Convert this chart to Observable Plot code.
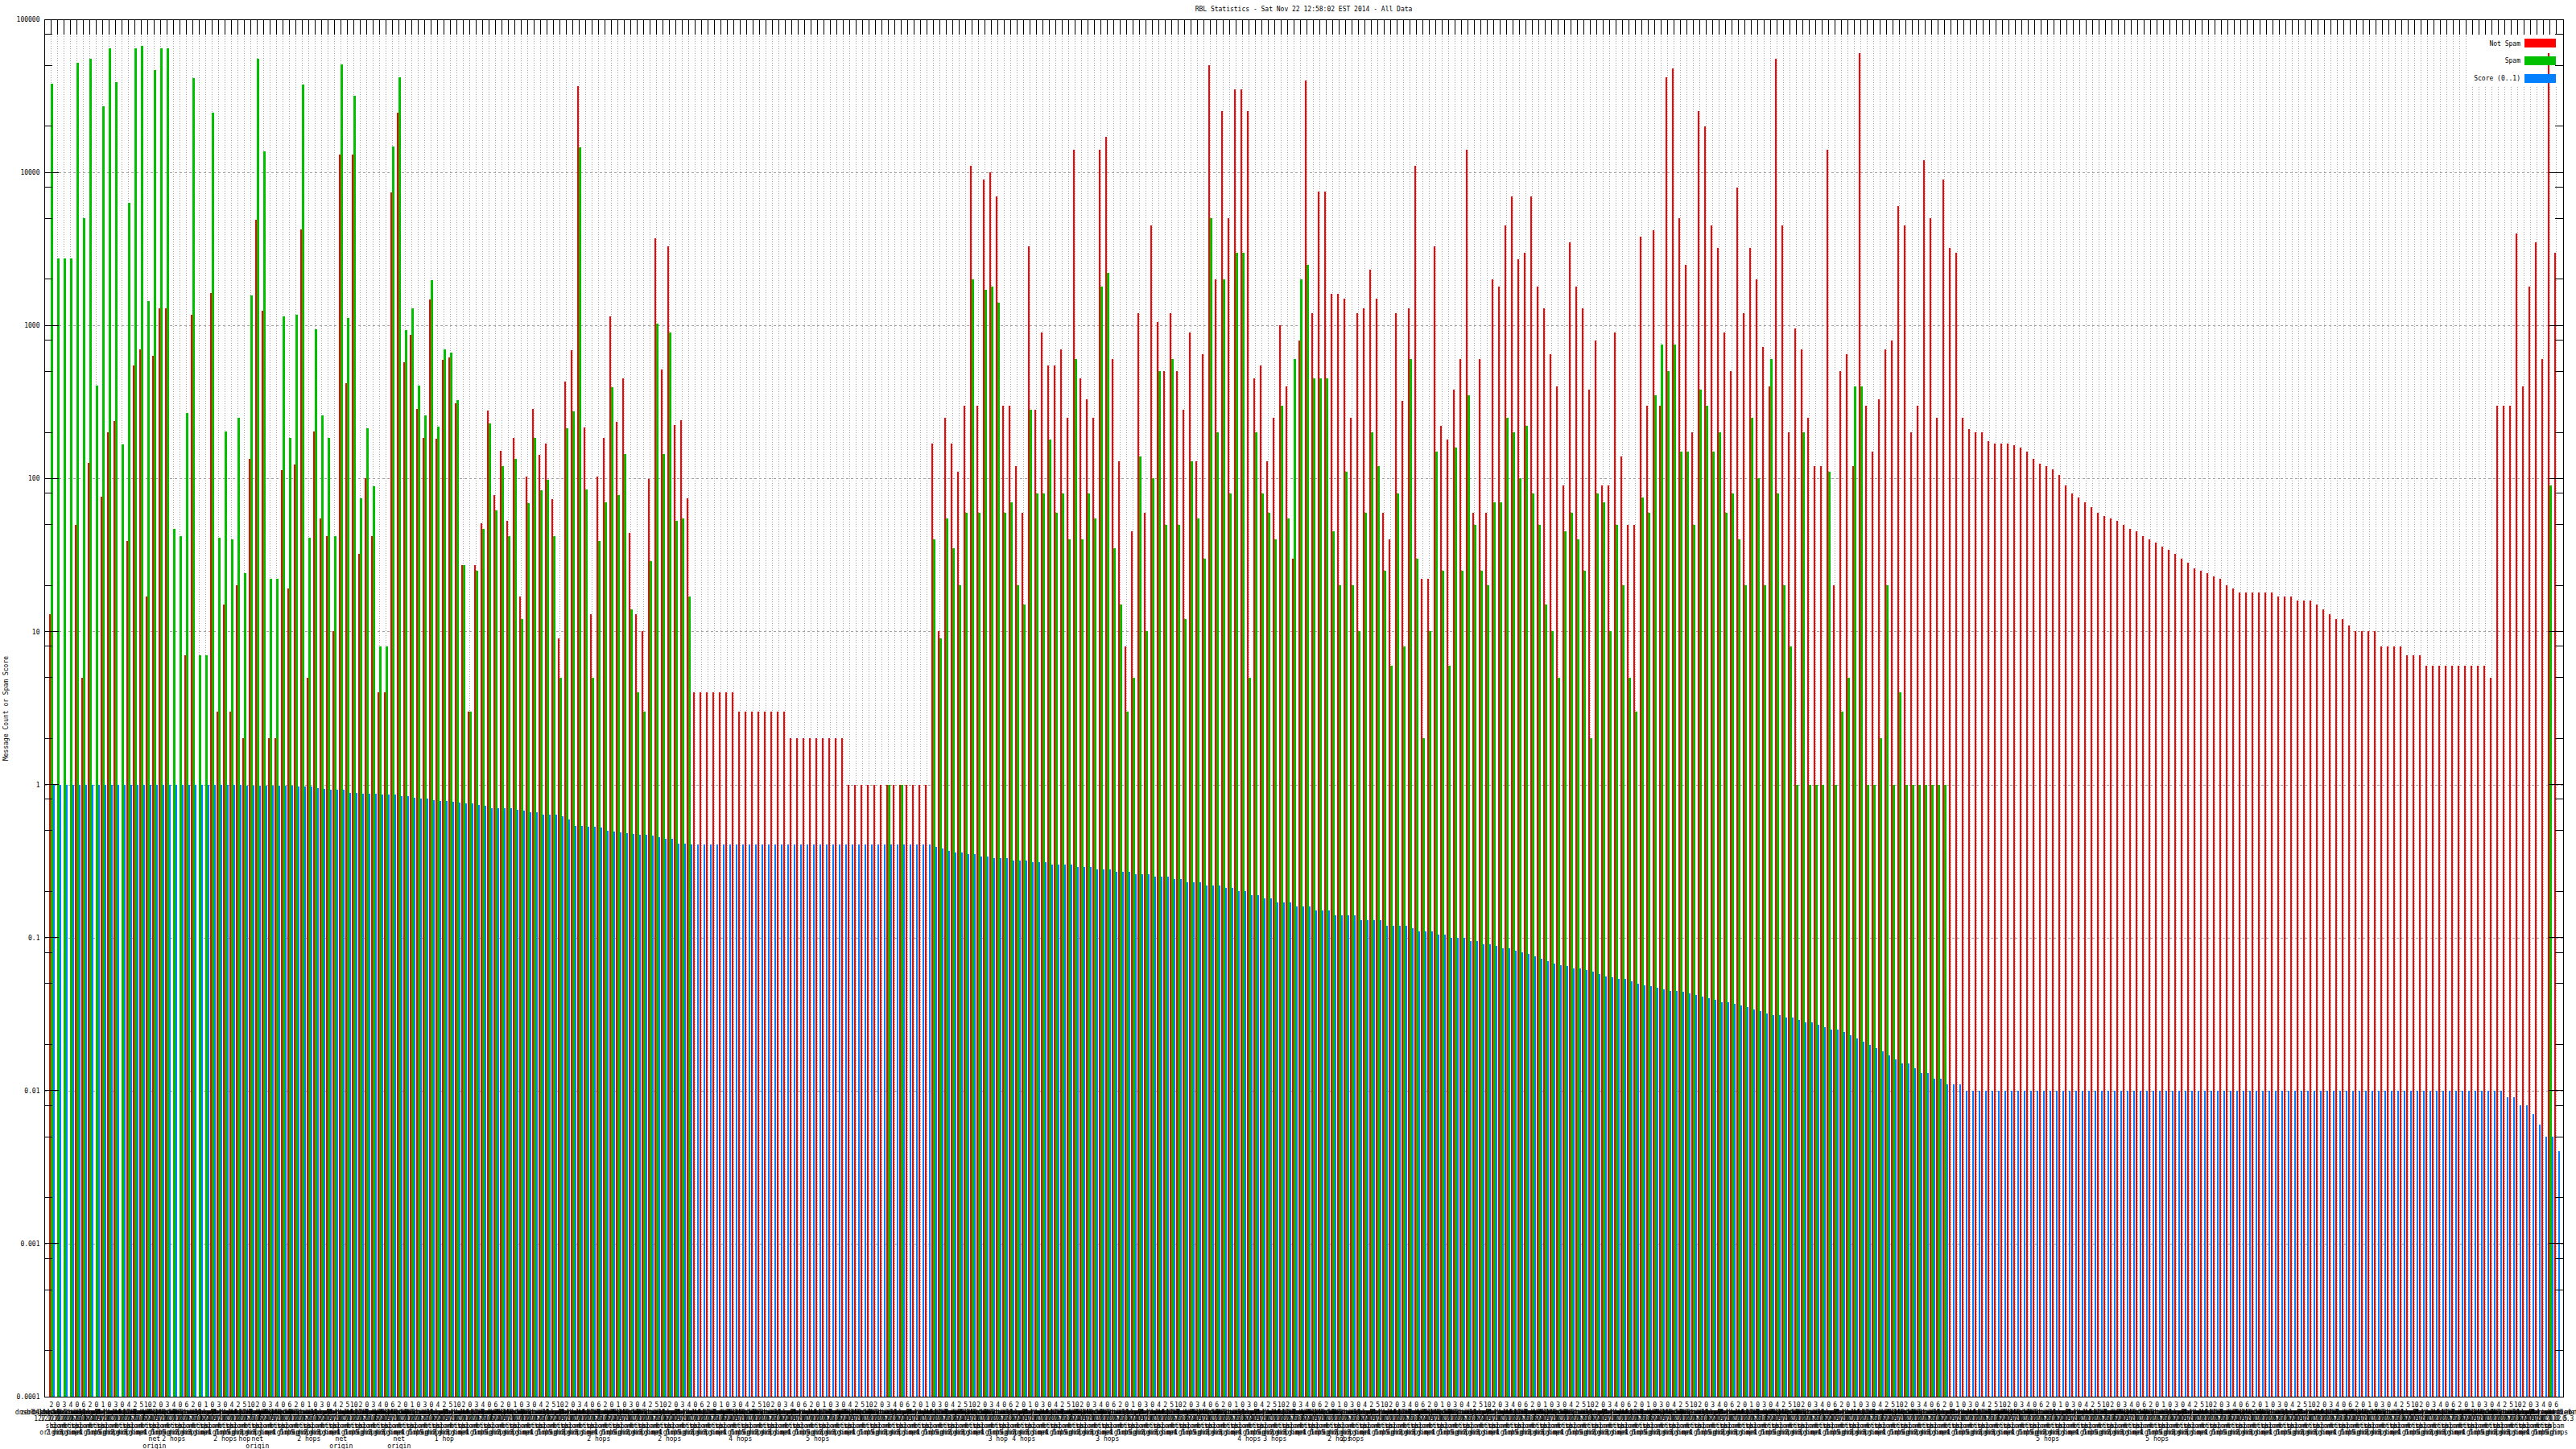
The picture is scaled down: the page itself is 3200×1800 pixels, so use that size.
<!DOCTYPE html>
<html><head><meta charset="utf-8">
<script src="https://cdn.jsdelivr.net/npm/d3@7"></script>
<script src="https://cdn.jsdelivr.net/npm/@observablehq/plot@0.6"></script>
<style>
html,body{margin:0;padding:0;background:#fff;}
#title{height:18px;width:3239px;text-align:center;font:8px "DejaVu Sans Mono",monospace;line-height:12px;padding-top:6px;box-sizing:border-box;color:#000;white-space:pre;}
</style></head><body>
<div id="title">RBL Statistics - Sat Nov 22 12:58:02 EST 2014 - All Data</div>
<div id="chart"></div>
<script>
const seriesNames = ["Not Spam", "Spam", "Score (0..1)"];
const seriesColors = ["#ff0000", "#00c000", "#0080ff"];
const yTickValues = [100000, 10000, 1000, 100, 10, 1, 0.1, 0.01, 0.001, 0.0001];
const yMinorMultipliers = [2, 5, 8];

const notSpam = [
13,null,null,null,50,5,127,null,76,200,
236,null,39,547,695,17,630,1290,1290,null,
null,7,1180,null,null,1620,3,15,3,20,
2,134,4900,1245,2,2,114,19,123,4260,
5,202,55,42,10,13000,420,13100,32,100,
42,4,4,7360,24600,572,870,283,185,1470,
181,597,617,310,27,3,27,51,277,78,
152,53,183,17,103,283,142,169,73,9,
430,689,36600,215,13,103,185,1140,233,449,
44,13,10,99,3690,518,3270,223,240,74,
4,4,4,4,4,4,4,
3,3,3,3,3,3,3,3,
2,2,2,2,2,2,2,2,2,
1,1,1,1,1,
1,1,1,1,1,1,1,1,
170,10,250,170,110,300,11000,300,9000,10000,
7000,300,300,120,60,3300,280,900,550,550,
700,250,14000,450,330,250,14000,17000,600,130,
8,45,1200,60,4500,1050,500,1200,500,280,
900,130,650,50000,2000,25000,5000,35000,35000,25000,
450,550,130,250,1000,400,30,800,40000,1200,
7500,7500,1600,1600,1500,250,1200,1300,2300,1500,
60,40,1200,320,1300,11000,22,22,3300,220,
180,380,600,14000,60,600,60,2000,1800,4500,
7000,2700,3000,7000,1800,1300,650,400,90,3500,
1800,1300,380,800,90,90,900,140,50,50,
3800,300,4200,300,42000,48000,5000,2500,200,25000,
20000,4500,3200,900,500,8000,1200,3200,2000,
720,400,55000,4500,200,950,700,250,120,120,
14000,20,500,650,120,60000,300,150,330,700,
800,6000,4500,200,300,12000,5000,250,9000,3200,3000,
250,210,200,200,175,170,170,170,165,160,
150,135,125,120,115,105,90,80,75,70,
65,60,57,55,53,50,47,45,42,40,
38,36,34,32,30,28,26,25,24,23,
22,20,19,18,18,18,18,18,18,17,
17,17,16,16,16,15,14,13,12,12,
11,10,10,10,10,8,8,8,8,7,
7,7,6,
6,6,6,6,6,6,6,6,6,
5,
300,300,300,4000,400,1800,3500,600,60000,3000
];

const spam = [
38000,2740,2740,2740,52000,5030,55300,406,26900,64500,
38900,166,6320,64500,66800,1450,46500,64500,64500,47,
42,268,41500,7,7,24600,41,203,40,250,
24,1570,55300,13700,22,22,1150,185,1170,37300,
41,947,257,185,42,51000,1120,31600,74,213,
89,8,8,14700,41900,935,1300,406,257,1970,
218,697,667,327,27,3,25,47,228,62,
120,42,134,12,69,185,84,98,42,5,
213,274,14500,85,5,39,70,394,78,144,
14,4,3,29,1033,144,896,53,55,17,
null,null,null,null,null,null,null,null,null,null,
null,null,null,null,null,null,null,null,null,null,
null,null,null,null,null,null,null,null,null,
null,1,null,1,null,null,null,null,
40,9,55,35,20,60,2000,60,1700,1800,
1400,60,70,20,15,280,80,80,180,60,
80,40,600,40,80,55,1800,2200,35,15,
3,5,140,10,100,500,50,600,50,12,
130,55,30,5000,200,2000,80,3000,3000,5,
200,80,60,40,300,55,600,2000,2500,450,
450,450,45,20,110,20,10,60,200,120,
25,6,80,8,600,30,2,10,150,25,
6,160,25,350,50,25,20,70,70,250,
200,100,220,80,50,15,10,5,45,60,
40,25,2,80,70,10,50,20,5,3,
75,60,350,750,500,750,150,150,50,380,
300,150,200,60,80,40,20,250,100,
20,600,80,20,8,1,200,1,1,1,
110,1,3,5,400,400,1,1,2,20,
1,4,1,1,1,1,1,1,1,null,null,
null,null,null,null,null,null,null,null,null,null,
null,null,null,null,null,null,null,null,null,null,
null,null,null,null,null,null,null,null,null,null,
null,null,null,null,null,null,null,null,null,null,
null,null,null,null,null,null,null,null,null,null,
null,null,null,null,null,null,null,null,null,null,
null,null,null,null,null,null,null,null,null,null,
null,null,null,null,null,null,null,null,null,null,
null,null,null,null,null,null,null,null,null,null,
null,
90,null
];

const score = [
1,1,1,1,1,1,1,1,1,1,
1,1,1,1,1,1,1,1,1,1,
1,1,1,1,1,1,1,0.99,0.99,0.99,
0.98,0.978,0.978,0.978,0.978,0.978,0.978,0.978,0.968,0.968,
0.968,0.947,0.937,0.926,0.93,0.926,0.886,0.877,0.867,0.867,
0.867,0.858,0.858,0.858,0.839,0.839,0.821,0.812,0.812,0.794,
0.777,0.777,0.769,0.76,0.752,0.752,0.736,0.728,0.704,0.704,
0.696,0.696,0.681,0.674,0.659,0.659,0.638,0.638,0.638,0.617,
0.591,0.535,0.535,0.53,0.53,0.524,0.496,0.49,0.485,0.48,
0.475,0.47,0.47,0.464,0.454,0.444,0.44,0.41,0.41,0.407,
0.407,0.407,0.407,0.407,0.407,0.407,0.407,0.407,0.407,0.407,
0.407,0.407,0.407,0.407,0.407,0.407,0.407,0.407,0.407,0.407,
0.407,0.407,0.407,0.407,0.407,0.407,0.407,0.407,0.407,
0.407,0.407,0.407,0.407,0.407,0.407,0.407,0.407,0.39,0.38,0.37,
0.36,0.36,0.35,0.35,0.34,0.34,0.33,0.33,0.33,0.32,
0.32,0.32,0.31,0.31,0.31,0.30,0.30,0.30,0.30,0.29,
0.29,0.29,0.28,0.28,0.28,0.27,0.27,0.27,0.26,0.26,
0.26,0.25,0.25,0.25,0.24,0.24,0.23,0.23,0.23,0.22,
0.22,0.22,0.21,0.21,0.20,0.20,0.19,0.19,0.18,0.18,
0.17,0.17,0.17,0.16,0.16,0.16,0.15,0.15,0.15,0.14,
0.14,0.14,0.14,0.13,0.13,0.13,0.13,0.12,0.12,0.12,
0.12,0.115,0.11,0.11,0.11,0.105,0.105,0.10,0.10,0.10,
0.095,0.095,0.09,0.09,0.088,0.085,0.085,0.082,0.08,0.078,
0.075,0.073,0.07,0.068,0.066,0.065,0.063,0.063,0.061,0.06,
0.058,0.056,0.055,0.054,0.054,0.052,0.05,0.049,0.048,0.047,
0.046,0.045,0.045,0.044,0.043,0.042,0.041,0.04,0.039,0.038,
0.038,0.037,0.036,0.035,0.034,0.033,0.032,0.031,0.031,0.03,
0.03,0.029,0.028,0.028,0.027,0.026,0.025,0.025,0.024,0.023,
0.022,0.021,0.02,0.019,0.018,0.017,0.016,0.015,0.015,0.014,
0.013,0.013,0.012,0.012,0.011,0.011,0.011,0.01,
0.01,0.01,0.01,0.01,0.01,0.01,0.01,0.01,0.01,0.01,
0.01,0.01,0.01,0.01,0.01,0.01,0.01,0.01,0.01,0.01,
0.01,0.01,0.01,0.01,0.01,0.01,0.01,0.01,0.01,0.01,
0.01,0.01,0.01,0.01,0.01,0.01,0.01,0.01,0.01,0.01,
0.01,0.01,0.01,0.01,0.01,0.01,0.01,0.01,0.01,0.01,
0.01,0.01,0.01,0.01,0.01,0.01,0.01,0.01,0.01,0.01,
0.01,0.01,0.01,0.01,0.01,0.01,0.01,0.01,0.01,0.01,
0.01,0.01,0.01,0.01,0.01,0.01,0.01,0.01,0.01,0.01,
0.01,0.01,
0.01,0.009,0.009,0.008,0.008,0.007,0.006,0.005,0.005,0.004
];

// category label parts (the reference labels overlap into an illegible band)
const labelCounts = ["2","0","3","4","0","6","2","0","1","0","3","0","4","2","5","10"];
const rblHosts = ["zen.spamhaus.org","bl.spamcop.net","b.barracudacentral.org","dnsbl.sorbs.net","cbl.abuseat.org","psbl.surriel.com","bl.mailspike.net","dnsbl-1.uceprotect.net","ix.dnsbl.manitu.net","truncate.gbudb.net","bl.spameatingmonkey.net","db.wpbl.info","dnsbl.inps.de","all.s5h.net","dnsbl.dronebl.org","bl.blocklist.de","rbl.interserver.net","dnsbl-2.uceprotect.net"];
const rblCodes = ["127.0.0.2","127.0.0.3","127.0.0.4","127.0.0.10","127.0.0.11","127.0.0.5","127.0.0.6","127.0.0.9","127.0.1.2"];
const listTypes = ["sbl","xbl","pbl","spam","web","misc","zombie","dul","smtp","http","socks","combined"];
const hopLabels = ["origin","2 hops","origin","3 hops","net","origin","4 hops","1 hop","origin","5 hops"];
const extraLines = [[16,"net\norigin"],[19,"2 hops"],[27,"2 hops"],[30,"hop"],[32,"net\norigin"],[40,"2 hops"],[45,"net\norigin"],[54,"net\norigin"],[61,"1 hop"],[85,"2 hops"],[96,"2 hops"],[107,"4 hops"],[119,"5 hops"],[147,"3 hop"],[151,"4 hops"],[164,"3 hops"],[186,"4 hops"],[190,"3 hops"],[200,"2 hops"],[202,"2 hops"],[310,"5 hops"],[327,"5 hops"]];

const N = notSpam.length;
const extraMap = new Map(extraLines);
const categories = d3.range(N).map(i => {
  const lines = [
    labelCounts[i % labelCounts.length],
    rblHosts[(i * 7) % rblHosts.length],
    rblCodes[(i * 5) % rblCodes.length],
    listTypes[(i * 3) % listTypes.length],
    hopLabels[(i * 11) % hopLabels.length]
  ];
  if (extraMap.has(i)) lines.push(extraMap.get(i));
  return {i, label: lines.join("\n")};
});

const bars = [];
for (let i = 0; i < N; i++) {
  if (notSpam[i] != null) bars.push({x1: i - 0.29, x2: i, v: notSpam[i], s: seriesNames[0]});
  if (spam[i] != null) bars.push({x1: i, x2: i + 0.29, v: spam[i], s: seriesNames[1]});
  if (score[i] != null) bars.push({x1: i + 0.29, x2: i + 0.56, v: score[i], s: seriesNames[2]});
}

const idx = d3.range(N);
const minorTicks = [];
for (const d of yTickValues) for (const m of yMinorMultipliers) { const v = d * m; if (v < 1e5) minorTicks.push(v); }

function tickMarks(index, scales, values, dim) {
  const left = dim.marginLeft, right = dim.width - dim.marginRight, top = dim.marginTop;
  const g = d3.create("svg:g").attr("stroke", "#000").attr("stroke-width", 1).attr("shape-rendering", "crispEdges");
  for (const i of idx) {
    const x = scales.x(i);
    g.append("line").attr("x1", x).attr("x2", x).attr("y1", top).attr("y2", top + 19);
  }
  for (const v of yTickValues) {
    const y = scales.y(v);
    g.append("line").attr("x1", left).attr("x2", left + 18).attr("y1", y).attr("y2", y);
    g.append("line").attr("x1", right - 18).attr("x2", right).attr("y1", y).attr("y2", y);
  }
  for (const v of minorTicks) {
    const y = scales.y(v);
    g.append("line").attr("x1", left).attr("x2", left + 10).attr("y1", y).attr("y2", y);
    g.append("line").attr("x1", right - 10).attr("x2", right).attr("y1", y).attr("y2", y);
  }
  return g.node();
}

function legendBack(index, scales, values, dim) {
  const right = dim.width - dim.marginRight, top = dim.marginTop;
  return d3.create("svg:rect").attr("x", right - 118).attr("y", top + 9).attr("width", 117).attr("height", 73).attr("fill", "#fff").node();
}

function legend(index, scales, values, dim) {
  const right = dim.width - dim.marginRight, top = dim.marginTop;
  const g = d3.create("svg:g").attr("font-family", "DejaVu Sans Mono").attr("font-size", 8);
  seriesNames.forEach((name, k) => {
    const cy = top + 29.7 + 21.8 * k;
    g.append("rect").attr("x", right - 48).attr("y", cy - 5.3).attr("width", 39).attr("height", 10.6).attr("fill", scales.color(name)).attr("shape-rendering", "crispEdges");
    g.append("text").attr("x", right - 53).attr("y", cy).attr("dy", "0.35em").attr("text-anchor", "end").attr("fill", "#000").text(name);
  });
  return g.node();
}

const chart = Plot.plot({
  width: 3200,
  height: 1782,
  marginTop: 6,
  marginBottom: 65,
  marginLeft: 55,
  marginRight: 16,
  style: {fontFamily: "DejaVu Sans Mono", fontSize: "8px", background: "#fff", color: "#000"},
  x: {type: "linear", domain: [-1.04, N + 0.1], axis: null},
  y: {type: "log", domain: [1e-4, 1e5], axis: null},
  color: {domain: seriesNames, range: seriesColors},
  marks: [
    Plot.ruleX(idx, {x: d => d, stroke: "#a0a0a0", strokeDasharray: "1,2", strokeWidth: 1, shapeRendering: "crispEdges"}),
    Plot.ruleY(yTickValues.slice(1, -1), {y: d => d, stroke: "#a0a0a0", strokeDasharray: "3,3", strokeWidth: 1, shapeRendering: "crispEdges"}),
    legendBack,
    Plot.rectY(bars, {x1: "x1", x2: "x2", y1: 1e-4, y2: "v", fill: "s", shapeRendering: "crispEdges"}),
    Plot.frame({stroke: "#000", strokeWidth: 1, shapeRendering: "crispEdges"}),
    tickMarks,
    Plot.axisY(yTickValues, {anchor: "left", label: null, tickSize: 0, tickPadding: 6, tickFormat: d => String(d), fontSize: 8, fill: "#000"}),
    Plot.text(categories, {x: "i", text: "label", frameAnchor: "bottom", lineAnchor: "top", dy: 7, fontSize: 8, lineHeight: 1.05, fill: "#000"}),
    Plot.text(["Message Count or Spam Score"], {text: d => d, frameAnchor: "left", textAnchor: "middle", dx: -48.5, rotate: -90, fontSize: 8, fill: "#000"}),
    legend
  ]
});
document.getElementById("chart").appendChild(chart);
</script>
</body></html>
